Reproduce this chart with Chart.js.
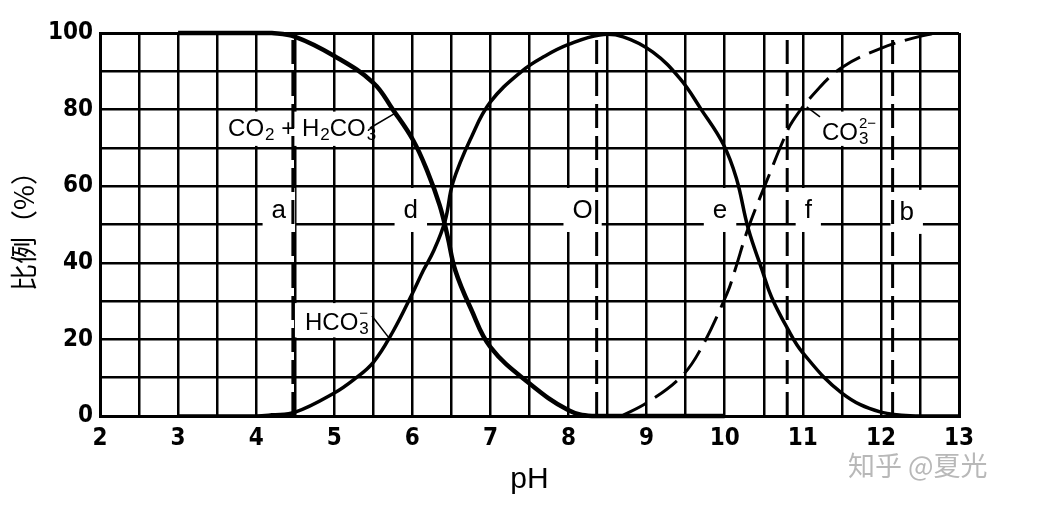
<!DOCTYPE html>
<html><head><meta charset="utf-8">
<script src="https://cdn.jsdelivr.net/npm/chart.js@4/dist/chart.umd.min.js"></script>
<style>html,body{margin:0;padding:0;background:#fff;}#wrap{width:1038px;height:508px;position:relative;}</style>
</head><body><div id="wrap"><canvas id="c"></canvas></div>
<script>
// ---- data ----
const xLabelValues = [2, 3, 4, 5, 6, 7, 8, 9, 10, 11, 12, 13];
const yLabelValues = [0, 20, 40, 60, 80, 100];

const co2PH  = [3, 3.5, 4, 4.2, 4.5, 5, 5.5, 5.75, 6.01, 6.2, 6.35, 6.45, 6.55, 6.75, 7, 7.5, 8, 8.3, 9, 10];
const co2Pct = [100, 100, 100, 100, 99, 94, 87, 80, 72, 63.5, 55, 47, 38, 28, 18, 8.5, 1.5, 0, 0, 0];

const hco3PH  = [3, 4, 4.2, 4.5, 5, 5.25, 5.5, 5.75, 6, 6.14, 6.27, 6.42, 6.52, 6.76, 7, 7.4, 7.7, 8, 8.4, 8.7, 9.08, 9.43, 9.7, 9.98, 10.15, 10.3, 10.48, 10.6, 10.8, 11, 11.5, 12, 12.5, 13];
const hco3Pct = [0, 0, 0.3, 1, 6, 9.5, 14, 22, 32, 38, 43, 51, 61, 73, 82, 90, 94, 97, 99.5, 99, 95, 88, 80, 71, 62, 49, 38, 31, 23, 16.5, 6, 1, 0, 0];

const co3PH  = [8.68, 9, 9.43, 9.68, 10.03, 10.13, 10.3, 10.58, 10.75, 10.87, 11.18, 11.5, 12, 12.4, 12.7];
const co3Pct = [0, 3.4, 10, 17, 32, 38, 49, 63.5, 72, 77, 85, 91, 96, 98.6, 100];

const dividerPH = [4.47, 8.36, 10.8, 12.15];

const letterText = ['a', 'd', 'O', 'e', 'f', 'b'];
const letterPH   = [4.29, 5.98, 8.18, 9.94, 11.07, 12.33];
const letterPct  = [51.7, 51.7, 51.7, 51.7, 51.7, 51.2];

const xTitle = 'pH';
const yTitle = '比例（%）';
const watermark = '知乎 @夏光';

// species labels (text parts: [text, -1 sub | 0 normal | 1 sup-over-previous])
const speciesParts = [
  [['CO', 0], ['2', -1], [' + H', 0], ['2', -1], ['CO', 0], ['3', -1]],
  [['HCO', 0], ['3', -1], ['−', 1]],
  [['CO', 0], ['3', -1], ['2−', 1]]
];
const speciesAnchorPH  = [3.64, 4.625, 11.245];
const speciesAnchorPct = [73.1, 22.45, 72.06];
const speciesBoxPH     = [[3.5, 5.5], [4.47, 5.5], [11.08, 12.0]];
const speciesBoxPct    = [[70, 80], [20, 30], [70, 80]];
const leaderPH  = [[5.457, 5.765], [5.483, 5.70], [11.22, 11.05]];
const leaderPct = [[75.2, 78.9], [26.1, 20.4], [78.1, 80.7]];

// ---- chart ----
const pts = (xs, ys) => xs.map((x, i) => ({x: x, y: ys[i]}));
const INK = '#000';
const narrow = "'Liberation Sans Narrow', 'DejaVu Sans Condensed', sans-serif";
const plain = "'Liberation Sans', 'DejaVu Sans', sans-serif";

const datasets = [
  {data: pts(co2PH, co2Pct), borderColor: INK, borderWidth: 4.5, tension: 0.4},
  {data: pts(hco3PH, hco3Pct), borderColor: INK, borderWidth: 3.5, tension: 0.4},
  {data: pts(co3PH, co3Pct), borderColor: INK, borderWidth: 3, borderDash: [28, 10], tension: 0.4}
];
dividerPH.forEach(v => datasets.push({data: [{x: v, y: 0}, {x: v, y: 100}], borderColor: INK, borderWidth: 3, borderDash: [24, 8], tension: 0}));
datasets.forEach(d => { d.pointRadius = 0; d.fill = false; d.clip = 6; });

function drawParts(ctx, parts, x, y, size) {
  let cx = x, prevX = x;
  parts.forEach(([t, mode]) => {
    if (mode === 0) {
      ctx.font = size + 'px ' + plain;
      ctx.fillText(t, cx, y); prevX = cx; cx += ctx.measureText(t).width;
    } else if (mode === -1) {
      ctx.font = Math.round(size * 0.7) + 'px ' + plain;
      ctx.fillText(t, cx + 1, y + size * 0.18); prevX = cx + 1; cx += ctx.measureText(t).width + 1;
    } else {
      ctx.font = Math.round(size * 0.62) + 'px ' + plain;
      const w = ctx.measureText(t).width;
      ctx.fillText(t, prevX, y - size * 0.52);
      cx = Math.max(cx, prevX + w);
    }
  });
}

const annot = {
  id: 'annot',
  beforeDatasetsDraw(chart) {
    const {ctx, scales: {x, y}} = chart;
    ctx.save();
    ctx.fillStyle = '#fff';
    speciesBoxPH.forEach((bx, i) => {
      const x0 = x.getPixelForValue(bx[0]) + 2, x1 = x.getPixelForValue(bx[1]) - 2;
      const y0 = y.getPixelForValue(speciesBoxPct[i][1]) + 2, y1 = y.getPixelForValue(speciesBoxPct[i][0]) - 2;
      ctx.fillRect(x0, y0, x1 - x0, y1 - y0);
    });
    ctx.font = '26px ' + plain;
    letterText.forEach((t, i) => {
      const px = x.getPixelForValue(letterPH[i]), py = y.getPixelForValue(letterPct[i]);
      const w = ctx.measureText(t).width + 18;
      ctx.fillRect(px - w / 2, py - 30, w, 44);
    });
    ctx.restore();
  },
  afterDatasetsDraw(chart) {
    const {ctx, scales: {x, y}} = chart;
    ctx.save();
    ctx.fillStyle = INK; ctx.strokeStyle = INK;
    ctx.textBaseline = 'alphabetic';
    ctx.textAlign = 'center';
    ctx.font = '26px ' + plain;
    letterText.forEach((t, i) => ctx.fillText(t, x.getPixelForValue(letterPH[i]), y.getPixelForValue(letterPct[i])));
    ctx.textAlign = 'left';
    speciesParts.forEach((parts, i) => {
      drawParts(ctx, parts, x.getPixelForValue(speciesAnchorPH[i]), y.getPixelForValue(speciesAnchorPct[i]), 24);
      ctx.lineWidth = 1.5;
      ctx.beginPath();
      ctx.moveTo(x.getPixelForValue(leaderPH[i][0]), y.getPixelForValue(leaderPct[i][0]));
      ctx.lineTo(x.getPixelForValue(leaderPH[i][1]), y.getPixelForValue(leaderPct[i][1]));
      ctx.stroke();
    });
    ctx.restore();
  },
  afterDraw(chart) {
    const {ctx} = chart;
    ctx.save();
    ctx.fillStyle = '#b8b8b8';
    ctx.font = "27px 'Noto Sans CJK SC', sans-serif";
    ctx.textBaseline = 'middle';
    ctx.textAlign = 'left';
    ctx.fillText(watermark, 848, 466);
    ctx.restore();
  }
};

const gridW = c => (c.tick && (c.tick.value === c.scale.max || c.tick.value === c.scale.min)) ? 3 : 2.5;

new Chart(document.getElementById('c'), {
  type: 'line',
  data: {datasets},
  plugins: [annot],
  options: {
    responsive: true, maintainAspectRatio: false, animation: false,
    events: [],
    layout: {padding: {left: 0, right: 79, top: 33, bottom: 0}},
    plugins: {legend: {display: false}, tooltip: {enabled: false}},
    scales: {
      x: {
        type: 'linear', min: 2, max: 13,
        afterFit: s => { s.height = 92; },
        ticks: {stepSize: 0.5, autoSkip: false, maxRotation: 0, padding: 8, color: INK,
          font: {family: narrow, size: 24, weight: 'bold'},
          callback: v => xLabelValues.includes(v) ? String(v) : ''},
        grid: {color: INK, lineWidth: gridW, drawTicks: false},
        border: {color: INK, width: 3},
        title: {display: true, text: xTitle, color: INK, font: {family: plain, size: 30}, padding: {top: 0, bottom: 10}}
      },
      y: {
        min: 0, max: 100,
        afterFit: s => { s.width = 100; },
        ticks: {stepSize: 10, autoSkip: false, padding: 7, color: INK,
          font: {family: narrow, size: 24, weight: 'bold'},
          callback: v => yLabelValues.includes(v) ? String(v) : ''},
        grid: {color: INK, lineWidth: gridW, drawTicks: false},
        border: {color: INK, width: 3},
        title: {display: true, text: yTitle, color: INK, font: {family: "'Noto Sans CJK SC', sans-serif", size: 27}, padding: {top: 8, bottom: 0}}
      }
    }
  }
});
</script></body></html>
